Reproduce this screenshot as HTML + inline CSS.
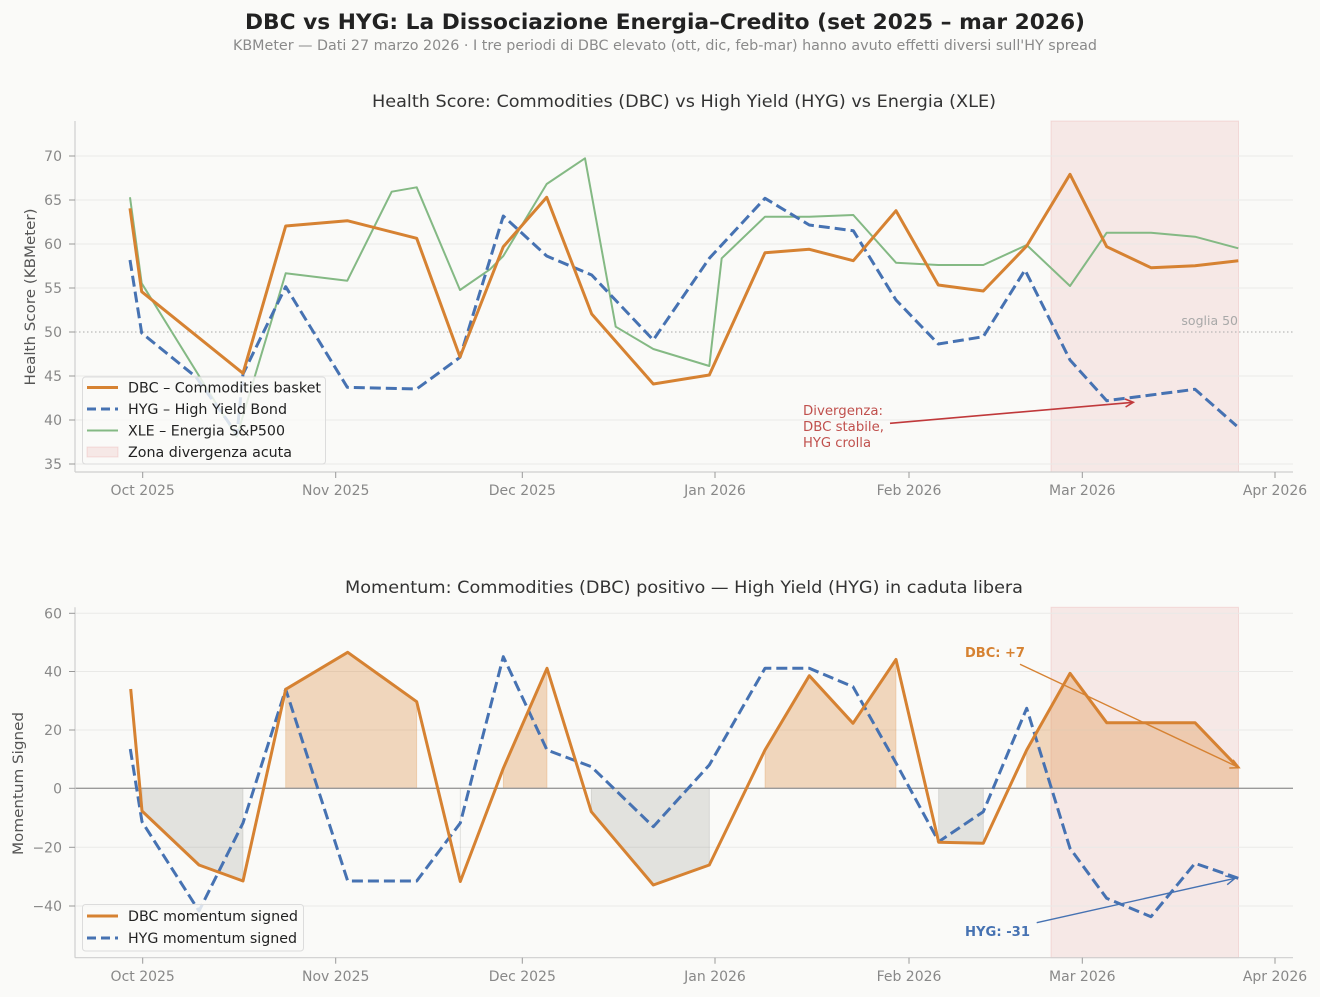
<!DOCTYPE html>
<html>
<head>
<meta charset="utf-8">
<style>
html,body{margin:0;padding:0;background:#fafaf8;}
svg{display:block;}
text{font-family:"DejaVu Sans","Liberation Sans",sans-serif;}
</style>
</head>
<body>
<svg width="1320" height="997" viewBox="0 0 1320 997" xmlns="http://www.w3.org/2000/svg">
<rect x="0" y="0" width="1320" height="997" fill="#fafaf8"/>

<!-- Titles -->
<text x="665" y="29" text-anchor="middle" font-size="21" font-weight="bold" fill="#222" textLength="840" lengthAdjust="spacingAndGlyphs">DBC vs HYG: La Dissociazione Energia–Credito (set 2025 – mar 2026)</text>
<text x="665" y="50" text-anchor="middle" font-size="14" fill="#8a8a8a" textLength="864" lengthAdjust="spacingAndGlyphs">KBMeter — Dati 27 marzo 2026 · I tre periodi di DBC elevato (ott, dic, feb-mar) hanno avuto effetti diversi sull'HY spread</text>

<!-- ================= TOP CHART ================= -->
<text x="684" y="107" text-anchor="middle" font-size="17" fill="#333" textLength="624" lengthAdjust="spacingAndGlyphs">Health Score: Commodities (DBC) vs High Yield (HYG) vs Energia (XLE)</text>

<!-- shaded zone -->
<rect x="1051" y="121" width="187.5" height="351" fill="rgb(214,80,80)" fill-opacity="0.1" stroke="rgb(214,80,80)" stroke-opacity="0.15" stroke-width="1"/>

<!-- grid -->
<g stroke="#e9e9e7" stroke-width="1">
<line x1="75" y1="156" x2="1293" y2="156"/>
<line x1="75" y1="200" x2="1293" y2="200"/>
<line x1="75" y1="244" x2="1293" y2="244"/>
<line x1="75" y1="288" x2="1293" y2="288"/>
<line x1="75" y1="376" x2="1293" y2="376"/>
<line x1="75" y1="420" x2="1293" y2="420"/>
<line x1="75" y1="464" x2="1293" y2="464"/>
</g>
<!-- threshold 50 -->
<line x1="75" y1="332" x2="1293" y2="332" stroke="#aaa" stroke-width="1" stroke-dasharray="1.5 2.5"/>
<text x="1238" y="325" text-anchor="end" font-size="12.5" fill="#a8a8a8">soglia 50</text>

<!-- spines -->
<line x1="75" y1="121" x2="75" y2="472" stroke="#cfcfcf" stroke-width="1.2"/>
<line x1="75" y1="472" x2="1293" y2="472" stroke="#cfcfcf" stroke-width="1.2"/>

<!-- y ticks -->
<g stroke="#999" stroke-width="1">
<line x1="69" y1="156" x2="75" y2="156"/>
<line x1="69" y1="200" x2="75" y2="200"/>
<line x1="69" y1="244" x2="75" y2="244"/>
<line x1="69" y1="288" x2="75" y2="288"/>
<line x1="69" y1="332" x2="75" y2="332"/>
<line x1="69" y1="376" x2="75" y2="376"/>
<line x1="69" y1="420" x2="75" y2="420"/>
<line x1="69" y1="464" x2="75" y2="464"/>
</g>
<g font-size="14" fill="#888" text-anchor="end">
<text x="62" y="161">70</text>
<text x="62" y="205">65</text>
<text x="62" y="249">60</text>
<text x="62" y="293">55</text>
<text x="62" y="337">50</text>
<text x="62" y="381">45</text>
<text x="62" y="425">40</text>
<text x="62" y="469">35</text>
</g>
<text transform="translate(35,297) rotate(-90)" text-anchor="middle" font-size="14" fill="#555" textLength="177" lengthAdjust="spacingAndGlyphs">Health Score (KBMeter)</text>

<!-- x ticks top -->
<g stroke="#999" stroke-width="1">
<line x1="142.7" y1="472" x2="142.7" y2="478"/>
<line x1="335.7" y1="472" x2="335.7" y2="478"/>
<line x1="522.3" y1="472" x2="522.3" y2="478"/>
<line x1="715" y1="472" x2="715" y2="478"/>
<line x1="909" y1="472" x2="909" y2="478"/>
<line x1="1082.3" y1="472" x2="1082.3" y2="478"/>
<line x1="1275" y1="472" x2="1275" y2="478"/>
</g>
<g font-size="14" fill="#888" text-anchor="middle">
<text x="142.7" y="495">Oct 2025</text>
<text x="335.7" y="495">Nov 2025</text>
<text x="522.3" y="495">Dec 2025</text>
<text x="715" y="495">Jan 2026</text>
<text x="909" y="495">Feb 2026</text>
<text x="1082.3" y="495">Mar 2026</text>
<text x="1275" y="495">Apr 2026</text>
</g>

<!-- XLE -->
<polyline fill="none" stroke="#84b984" stroke-width="2" stroke-linejoin="round" points="130,197.3 141.7,283.3 236.7,436.7 285.7,273.3 347.3,280.7 391.7,191.7 416.7,187.3 460,290 490,269.3 503.3,256 546.7,184 585,158.3 615.7,326.7 653.3,349 709.3,366 721.7,258.3 765,216.7 809.3,216.7 853.3,215 896,262.7 938.3,265 983.3,265 1026.7,245 1070,286 1106.7,232.7 1151,232.7 1195,236.7 1238.3,248.3"/>
<!-- HYG -->
<polyline fill="none" stroke="#4672b2" stroke-width="3" stroke-dasharray="11 5" stroke-linejoin="round" points="130,260 141.7,333 196,377 237,434 243,374 285.7,286.7 347.3,387.3 416.7,389 460,357.3 503.3,216 546.7,256 591.7,275 653.3,340 709.3,258.3 765,198.3 809.3,225 853.3,230.7 896,300 938.3,344 983.3,336.7 1025,270 1070,360 1106.7,400.7 1151,395 1195,389.3 1236.7,426"/>
<!-- DBC -->
<polyline fill="none" stroke="#d68232" stroke-width="3" stroke-linejoin="round" points="130,208.3 141.7,291.7 243,373.3 285.7,226 347.3,220.7 416.7,238.3 460,357 503.3,246.7 546.7,197.3 591.7,314 653.3,384 709.3,375 765,252.7 809.3,249.3 853.3,260.7 896,210.7 938.3,285 983.3,291 1026.7,246 1070,174.3 1106.7,246.7 1151,267.7 1195,265.7 1238.3,260.7"/>

<!-- divergence annotation -->
<g font-size="13" fill="#c0504d">
<text x="803" y="415" textLength="80" lengthAdjust="spacingAndGlyphs">Divergenza:</text>
<text x="803" y="431" textLength="81" lengthAdjust="spacingAndGlyphs">DBC stabile,</text>
<text x="803" y="447" textLength="68" lengthAdjust="spacingAndGlyphs">HYG crolla</text>
</g>
<line x1="890" y1="423.3" x2="1133.3" y2="402.3" stroke="#c0393b" stroke-width="1.6"/>
<polyline points="1125.6,407 1133.3,402.3 1125,399" fill="none" stroke="#c0393b" stroke-width="1.6"/>

<!-- top legend -->
<rect x="82.5" y="377" width="243" height="87" rx="3" fill="#fafaf8" fill-opacity="0.82" stroke="#dcdcdc" stroke-width="1"/>
<line x1="87" y1="387.5" x2="118" y2="387.5" stroke="#d68232" stroke-width="3"/>
<line x1="87" y1="409" x2="118" y2="409" stroke="#4672b2" stroke-width="3" stroke-dasharray="9 5"/>
<line x1="87" y1="430.5" x2="118" y2="430.5" stroke="#84b984" stroke-width="2"/>
<rect x="87" y="447" width="31" height="10" fill="rgb(214,80,80)" fill-opacity="0.1" stroke="rgb(214,80,80)" stroke-opacity="0.15"/>
<g font-size="14" fill="#222">
<text x="128" y="392.5" textLength="193" lengthAdjust="spacingAndGlyphs">DBC – Commodities basket</text>
<text x="128" y="414" textLength="159" lengthAdjust="spacingAndGlyphs">HYG – High Yield Bond</text>
<text x="128" y="435.5" textLength="157" lengthAdjust="spacingAndGlyphs">XLE – Energia S&amp;P500</text>
<text x="128" y="457" textLength="164" lengthAdjust="spacingAndGlyphs">Zona divergenza acuta</text>
</g>

<!-- ================= BOTTOM CHART ================= -->
<text x="684" y="593" text-anchor="middle" font-size="17" fill="#333" textLength="678" lengthAdjust="spacingAndGlyphs">Momentum: Commodities (DBC) positivo — High Yield (HYG) in caduta libera</text>

<rect x="1051" y="607.3" width="187.5" height="350.4" fill="rgb(214,80,80)" fill-opacity="0.1" stroke="rgb(214,80,80)" stroke-opacity="0.15" stroke-width="1"/>

<g stroke="#e9e9e7" stroke-width="1">
<line x1="75" y1="613.3" x2="1293" y2="613.3"/>
<line x1="75" y1="671.5" x2="1293" y2="671.5"/>
<line x1="75" y1="730" x2="1293" y2="730"/>
<line x1="75" y1="847.3" x2="1293" y2="847.3"/>
<line x1="75" y1="906" x2="1293" y2="906"/>
</g>

<!-- fills -->
<g fill="rgb(217,131,50)" fill-opacity="0.3" stroke="rgb(217,131,50)" stroke-opacity="0.3" stroke-width="0.8">
<polygon points="285.7,788.3 285.7,689.3 347.7,652.3 416.7,701.7 416.7,788.3"/>
<polygon points="503.3,788.3 503.3,768.3 547,668.3 547,788.3"/>
<polygon points="765,788.3 765,750 809.3,675.7 853,723.3 896,659.5 896,788.3"/>
<polygon points="1026.7,788.3 1026.7,750 1070,673.3 1106.7,722.7 1151,722.7 1195,722.7 1238.3,767.7 1238.3,788.3"/>
</g>
<g fill="rgb(128,128,120)" fill-opacity="0.2" stroke="rgb(128,128,120)" stroke-opacity="0.25" stroke-width="0.8">
<polygon points="142,788.3 142,811 199,865 243,881 243,788.3"/>
<polygon points="591.3,788.3 591.3,811.7 653.3,885 709.3,865 709.3,788.3"/>
<polygon points="938.7,788.3 938.7,842.3 983.3,843.3 983.3,788.3"/>
<line x1="460.3" y1="788.3" x2="460.3" y2="881.5"/>
</g>

<!-- zero line -->
<line x1="75" y1="788.3" x2="1293" y2="788.3" stroke="#9a9a9a" stroke-width="1.3"/>

<!-- spines -->
<line x1="75" y1="607.3" x2="75" y2="957.7" stroke="#cfcfcf" stroke-width="1.2"/>
<line x1="75" y1="957.7" x2="1293" y2="957.7" stroke="#cfcfcf" stroke-width="1.2"/>

<g stroke="#999" stroke-width="1">
<line x1="69" y1="613.3" x2="75" y2="613.3"/>
<line x1="69" y1="671.5" x2="75" y2="671.5"/>
<line x1="69" y1="730" x2="75" y2="730"/>
<line x1="69" y1="788.3" x2="75" y2="788.3"/>
<line x1="69" y1="847.3" x2="75" y2="847.3"/>
<line x1="69" y1="906" x2="75" y2="906"/>
</g>
<g font-size="14" fill="#888" text-anchor="end">
<text x="62" y="618.3">60</text>
<text x="62" y="676.5">40</text>
<text x="62" y="735">20</text>
<text x="62" y="793.3">0</text>
<text x="62" y="852.3">−20</text>
<text x="62" y="911">−40</text>
</g>
<text transform="translate(23,783.5) rotate(-90)" text-anchor="middle" font-size="14" fill="#555" textLength="143" lengthAdjust="spacingAndGlyphs">Momentum Signed</text>

<g stroke="#999" stroke-width="1">
<line x1="142.7" y1="957.7" x2="142.7" y2="963.7"/>
<line x1="335.7" y1="957.7" x2="335.7" y2="963.7"/>
<line x1="522.3" y1="957.7" x2="522.3" y2="963.7"/>
<line x1="715" y1="957.7" x2="715" y2="963.7"/>
<line x1="909" y1="957.7" x2="909" y2="963.7"/>
<line x1="1082.3" y1="957.7" x2="1082.3" y2="963.7"/>
<line x1="1275" y1="957.7" x2="1275" y2="963.7"/>
</g>
<g font-size="14" fill="#888" text-anchor="middle">
<text x="142.7" y="981">Oct 2025</text>
<text x="335.7" y="981">Nov 2025</text>
<text x="522.3" y="981">Dec 2025</text>
<text x="715" y="981">Jan 2026</text>
<text x="909" y="981">Feb 2026</text>
<text x="1082.3" y="981">Mar 2026</text>
<text x="1275" y="981">Apr 2026</text>
</g>

<!-- HYG momentum -->
<polyline fill="none" stroke="#4672b2" stroke-width="3" stroke-dasharray="11 5" stroke-linejoin="round" points="130.3,749 142,821.7 199,911 243,823 285.7,689.3 347.7,881 416.7,881 460.3,823 503.3,656.7 547,750 591.3,766.7 653.3,826.7 709.3,765 765,668.3 809.3,668.3 853,686.7 896,763 938.7,841.7 983.3,811.7 1026.7,708.3 1070,848.3 1106.7,898.3 1151,916.7 1195,863.3 1238.3,878.3"/>
<!-- DBC momentum -->
<polyline fill="none" stroke="#d68232" stroke-width="3" stroke-linejoin="round" points="130.7,689 142,811 199,865 243,881 285.7,689.3 347.7,652.3 416.7,701.7 460.3,881.5 503.3,768.3 547,668.3 591.3,811.7 653.3,885 709.3,865 765,750 809.3,675.7 853,723.3 896,659.5 938.7,842.3 983.3,843.3 1026.7,750 1070,673.3 1106.7,722.7 1151,722.7 1195,722.7 1238.3,767.7"/>

<!-- annotations bottom -->
<text x="965" y="657" font-size="13" font-weight="bold" fill="#d68232" textLength="60" lengthAdjust="spacingAndGlyphs">DBC: +7</text>
<line x1="1020" y1="664.3" x2="1239.3" y2="767.7" stroke="#d68232" stroke-width="1.4"/>
<polyline points="1229.3,768 1239.3,767.7 1233.1,759.8" fill="none" stroke="#d68232" stroke-width="1.4"/>

<text x="965" y="936" font-size="13" font-weight="bold" fill="#4672b2" textLength="65" lengthAdjust="spacingAndGlyphs">HYG: -31</text>
<line x1="1036.7" y1="922.7" x2="1235" y2="878.3" stroke="#4672b2" stroke-width="1.4"/>
<polyline points="1227.2,884.7 1235,878.3 1225.2,875.9" fill="none" stroke="#4672b2" stroke-width="1.4"/>

<!-- bottom legend -->
<rect x="82.5" y="904.5" width="221" height="46.5" rx="3" fill="#fafaf8" fill-opacity="0.82" stroke="#dcdcdc" stroke-width="1"/>
<line x1="87" y1="916" x2="118" y2="916" stroke="#d68232" stroke-width="3"/>
<line x1="87" y1="938" x2="118" y2="938" stroke="#4672b2" stroke-width="3" stroke-dasharray="9 5"/>
<g font-size="14" fill="#222">
<text x="128" y="921" textLength="170" lengthAdjust="spacingAndGlyphs">DBC momentum signed</text>
<text x="128" y="943" textLength="169" lengthAdjust="spacingAndGlyphs">HYG momentum signed</text>
</g>
</svg>
</body>
</html>
